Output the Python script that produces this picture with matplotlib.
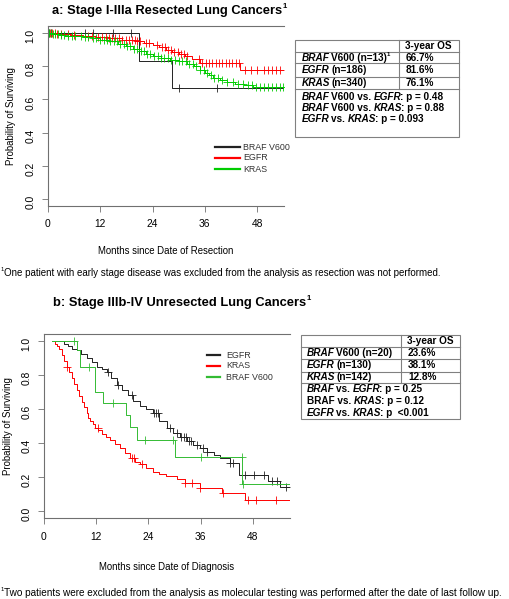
import numpy as np
import matplotlib
matplotlib.use("Agg")
import matplotlib.pyplot as plt
from matplotlib.patches import Rectangle

W, H = 510, 599

# ---- panel a: stage I-IIIa resected (months since resection) ----
END_A = 54.2
braf_a_t = [0, 20.9, 28.4]
braf_a_s = [1.0, 0.833, 0.667]
braf_a_cens = [0.3, 0.6, 8.5, 10.4, 15.0, 19.0, 30.0, 38.9]

egfr_a_t = [0, 2, 5, 8, 11, 14, 17, 20, 22, 24, 25.5, 27, 28.5, 30, 31.5, 33, 35, 44.2]
egfr_a_s = [1.0, 0.995, 0.99, 0.985, 0.975, 0.97, 0.96, 0.95, 0.94, 0.93, 0.915,
            0.90, 0.885, 0.875, 0.86, 0.845, 0.82, 0.775]
egfr_a_cens = [0.5, 1, 1.5, 2, 3, 4.5, 6, 9.3, 10.1, 11.5, 12.4, 13.3, 14.0, 14.8,
               15.5, 16.3, 17.0, 17.8, 18.5, 19.2, 19.9, 20.5, 21.2, 22.6, 23.3,
               25.0, 26.2, 26.9, 27.6, 28.3, 29.0, 29.8, 30.5, 31.2, 32.0, 34.7,
               35.4, 36.2, 37.0, 37.7, 38.5, 39.3, 40.0, 40.8, 41.6, 42.3, 43.1,
               43.8, 45.3, 46.6, 47.9, 49.7, 50.6, 51.5, 52.3, 53.2]

kras_a_t = [0, 1, 2.5, 4, 6, 8, 10, 12, 14, 16, 18, 19.5, 21, 22.5, 24, 26, 28, 30,
            32, 33.5, 35, 36, 37, 38, 39.5, 41, 43, 45, 47]
kras_a_s = [1.0, 0.995, 0.99, 0.985, 0.98, 0.975, 0.97, 0.96, 0.95, 0.935, 0.92,
            0.905, 0.89, 0.875, 0.86, 0.85, 0.84, 0.83, 0.815, 0.80, 0.78, 0.76,
            0.745, 0.73, 0.715, 0.705, 0.695, 0.685, 0.675]
kras_a_cens = [0.3, 0.7, 1.1, 1.6, 2.2, 2.9, 3.7, 4.6, 5.4, 6.3, 7.5, 8.4, 9.2, 10.3,
               11.1, 12.0, 12.8, 13.6, 14.3, 15.1, 15.8, 16.6, 17.4, 18.2, 18.9,
               19.7, 20.4, 21.3, 22.0, 22.8, 23.5, 24.4, 25.2, 26.0, 26.7, 27.5,
               28.3, 29.1, 30.0, 30.8, 31.6, 32.4, 33.2, 34.1, 35.0, 35.8, 36.6,
               37.4, 38.2, 39.0, 40.0, 41.2, 42.4, 43.6, 44.8, 45.9, 46.8, 47.7,
               48.6, 49.6, 50.5, 51.4, 52.3, 53.2, 54.0]

# ---- panel b: stage IIIb-IV unresected (months since diagnosis) ----
END_B = 56.3
egfr_b_t = [1.8, 4.5, 5.5, 6.5, 7.5, 8.5, 9.8, 11, 12.1, 13.3, 14.4, 15.5, 16.7, 18,
            19.2, 20.5, 22, 23.5, 25, 26.5, 28.2, 29.7, 31.3, 32.8, 34.3, 35.8,
            37.4, 39, 40.5, 42.8, 44.8, 51.5, 54.3]
egfr_b_s = [1.0, 0.985, 0.97, 0.955, 0.95, 0.925, 0.90, 0.875, 0.85, 0.835, 0.82,
            0.78, 0.74, 0.71, 0.68, 0.65, 0.62, 0.60, 0.575, 0.53, 0.49, 0.46,
            0.435, 0.41, 0.39, 0.37, 0.35, 0.33, 0.31, 0.285, 0.21, 0.175, 0.14]
egfr_b_cens = [14.7, 16.9, 20.2, 25.2, 25.7, 26.2, 29.0, 30.6, 31.5, 32.1, 32.6,
               33.2, 33.8, 35.2, 36.6, 37.4, 42.8, 43.4, 46.2, 48.3, 50.6, 52.3,
               53.6, 55.6]

kras_b_t = [1.8, 2.5, 3.0, 3.5, 4.1, 4.6, 5.2, 5.8, 6.4, 7.0, 7.5, 8.1, 8.7, 9.2,
            9.8, 10.2, 10.6, 11.2, 11.8, 12.5, 13.3, 14.2, 15.2, 16.3, 17.5, 18.6,
            19.8, 21.0, 22.0, 23.5, 25.1, 26.5, 28.0, 30.5, 32.4, 35.9, 40.9, 46.2]
kras_b_s = [1.0, 0.985, 0.97, 0.955, 0.92, 0.88, 0.845, 0.815, 0.78, 0.745, 0.71,
            0.675, 0.64, 0.61, 0.575, 0.55, 0.53, 0.51, 0.49, 0.475, 0.455, 0.435,
            0.42, 0.395, 0.37, 0.34, 0.31, 0.29, 0.275, 0.255, 0.23, 0.215, 0.205,
            0.19, 0.165, 0.135, 0.105, 0.065]
kras_b_cens = [5.2, 12.4, 20.2, 20.7, 22.4, 32.4, 33.9, 35.9, 41.0, 46.9, 48.6, 53.2]

braf_b_t = [1.8, 7.5, 8.3, 11.7, 13.6, 18.9, 19.8, 21.4, 30.1, 45.5]
braf_b_s = [1.0, 0.95, 0.85, 0.70, 0.635, 0.565, 0.495, 0.42, 0.32, 0.16]
braf_b_cens = [6.9, 10.3, 15.9, 23.3, 29.7, 36.1, 45.4, 45.6]

xticks = [0, 12, 24, 36, 48]
yticks = [0.0, 0.2, 0.4, 0.6, 0.8, 1.0]

RED = "#FF0000"
GREEN_A = "#00CC00"
GREEN_B = "#33BB33"
BLACK = "#222222"

ARIAL = ["Liberation Sans", "DejaVu Sans"]

fig = plt.figure(figsize=(W / 100, H / 100), dpi=100)


def px_axes(left, top, right, bottom):
    return fig.add_axes([left / W, 1 - bottom / H, (right - left) / W, (bottom - top) / H])


def km(ax, t, s, end, cens, color):
    t = np.asarray(t, float)
    s = np.asarray(s, float)
    ax.step(np.append(t, end), np.append(s, s[-1]), where="post", color=color, lw=0.7)
    idx = np.searchsorted(t, cens, side="right") - 1
    ax.plot(cens, s[idx], ls="none", marker="+", ms=6, mew=0.6, color=color)


def style(ax, xmax, xlabel):
    ax.set_xlim(0, xmax)
    ax.set_ylim(-0.04, 1.04)
    ax.set_xticks(xticks)
    ax.set_yticks(yticks)
    ax.set_yticklabels([f"{v:.1f}" for v in yticks])
    ax.spines["right"].set_visible(False)
    for sp in ["left", "bottom", "top"]:
        ax.spines[sp].set_color("#707070")
        ax.spines[sp].set_linewidth(0.8)
    ax.tick_params(direction="out", length=4, width=0.6, color="#707070", labelsize=7.4)
    ax.tick_params(axis="x", pad=6)
    ax.tick_params(axis="y", pad=5, labelrotation=90)
    for lab in ax.get_xticklabels() + ax.get_yticklabels():
        lab.set_family(ARIAL)
    ax.set_xlabel(xlabel, family=ARIAL, fontsize=6.9)
    ax.set_ylabel("Probability of Surviving", family=ARIAL, fontsize=6.9)


# panel a axes
ax_a = px_axes(48, 26.4, 284, 205.6)
km(ax_a, braf_a_t, braf_a_s, END_A, braf_a_cens, BLACK)
km(ax_a, egfr_a_t, egfr_a_s, END_A, egfr_a_cens, RED)
km(ax_a, kras_a_t, kras_a_s, END_A, kras_a_cens, GREEN_A)
style(ax_a, 54.2, "Months since Date of Resection")
ax_a.yaxis.set_label_coords(-0.135, 0.5)
ax_a.xaxis.set_label_coords(0.5, -0.225)

# panel b axes
ax_b = px_axes(44, 334.2, 290, 517.8)
km(ax_b, egfr_b_t, egfr_b_s, END_B, egfr_b_cens, BLACK)
km(ax_b, kras_b_t, kras_b_s, END_B, kras_b_cens, RED)
km(ax_b, braf_b_t, braf_b_s, END_B, braf_b_cens, GREEN_B)
style(ax_b, 56.5, "Months since Date of Diagnosis")
ax_b.yaxis.set_label_coords(-0.125, 0.5)
ax_b.xaxis.set_label_coords(0.5, -0.24)

# overlay in pixel coordinates for titles, tables, legends, footnotes
ov = fig.add_axes([0, 0, 1, 1], zorder=5)
ov.set_xlim(0, W)
ov.set_ylim(H, 0)
ov.axis("off")
ov.patch.set_visible(False)

renderer = fig.canvas.get_renderer()


def rich(x, y, parts, size=7.2, family=ARIAL):
    """Draw a run of text pieces: (text, bold, italic, superscript)."""
    for txt, bold, italic, sup in parts:
        if txt.startswith(" "):
            x += size * 100 / 72 * 0.278 * (len(txt) - len(txt.lstrip(" ")))
            txt = txt.lstrip(" ")
        fs = size * 0.6 if sup else size
        yy = y - size * 0.45 if sup else y
        t = ov.text(x, yy, txt, fontsize=fs, family=family,
                    weight="bold" if bold else "normal",
                    style="italic" if italic else "normal",
                    ha="left", va="center")
        x += t.get_window_extent(renderer).width - (1.5 if italic else 0)
    return x


# titles
rich(52, 11, [("a: Stage I-IIIa Resected Lung Cancers", True, False, False),
              ("1", True, False, True)], size=9.3)
rich(53, 303, [("b: Stage IIIb-IV Unresected Lung Cancers", True, False, False),
               ("1", True, False, True)], size=9.3)

# footnotes
rich(1, 273, [("1", False, False, True),
              ("One patient with early stage disease was excluded from the analysis "
               "as resection was not performed.", False, False, False)], size=7.0)
rich(1, 593, [("1", False, False, True),
              ("Two patients were excluded from the analysis as molecular testing was "
               "performed after the date of last follow up.", False, False, False)], size=7.2)


def table(left, right, colx, top, hdr_bot, row_lines, bottom, row_y, p_y, rows, pvals, txt_x):
    ov.add_patch(Rectangle((left, top), right - left, bottom - top, fill=False,
                           ec="#808080", lw=0.8))
    ov.plot([left, right], [hdr_bot, hdr_bot], color="#808080", lw=0.8)
    for yl in row_lines:
        ov.plot([left, right], [yl, yl], color="#808080", lw=0.8)
    ov.plot([colx, colx], [top, row_lines[-1]], color="#808080", lw=0.8)
    rich(colx + 6, (top + hdr_bot) / 2, [("3-year OS", True, False, False)])
    for yy, (parts, val) in zip(row_y, rows):
        rich(txt_x, yy, parts)
        rich(colx + 7, yy, [(val, True, False, False)])
    for yy, parts in zip(p_y, pvals):
        rich(txt_x, yy, parts)


B, I = True, True
table(295, 459, 399, 40, 52, [63, 77, 89], 137, [58, 70, 83], [97, 108, 119],
      [([("BRAF", B, I, False), (" V600 (n=13)", B, False, False), ("1", B, False, True)], "66.7%"),
       ([("EGFR", B, I, False), (" (n=186)", B, False, False)], "81.6%"),
       ([("KRAS", B, I, False), (" (n=340)", B, False, False)], "76.1%")],
      [[("BRAF", B, I, False), (" V600 vs. ", B, False, False), ("EGFR", B, I, False),
        (": p = 0.48", B, False, False)],
       [("BRAF", B, I, False), (" V600 vs. ", B, False, False), ("KRAS", B, I, False),
        (": p = 0.88", B, False, False)],
       [("EGFR", B, I, False), (" vs. ", B, False, False), ("KRAS", B, I, False),
        (": p = 0.093", B, False, False)]],
      302)

table(301, 460, 401, 335, 347, [359, 372, 383], 419, [353, 365, 377], [389, 401, 413],
      [([("BRAF", B, I, False), (" V600 (n=20)", B, False, False)], "23.6%"),
       ([("EGFR", B, I, False), (" (n=130)", B, False, False)], "38.1%"),
       ([("KRAS", B, I, False), (" (n=142)", B, False, False)], "12.8%")],
      [[("BRAF", B, I, False), (" vs. ", B, False, False), ("EGFR", B, I, False),
        (": p = 0.25", B, False, False)],
       [("BRAF vs. ", B, False, False), ("KRAS", B, I, False),
        (": p = 0.12", B, False, False)],
       [("EGFR", B, I, False), (" vs. ", B, False, False), ("KRAS", B, I, False),
        (": p  <0.001", B, False, False)]],
      307)


# legends
def legend(x0, x1, tx, ys, labels, colors):
    for yy, lab, col in zip(ys, labels, colors):
        ov.plot([x0, x1], [yy, yy], color=col, lw=1.6)
        ov.text(tx, yy, lab, fontsize=6.4, family=ARIAL, ha="left", va="center",
                color="#333333")


legend(215, 240, 243, [147, 158, 169], ["BRAF V600", "EGFR", "KRAS"], [BLACK, RED, GREEN_A])
legend(207, 220, 226, [355, 366, 377], ["EGFR", "KRAS", "BRAF V600"], [BLACK, RED, GREEN_B])

fig.savefig("out.png", dpi=100)
